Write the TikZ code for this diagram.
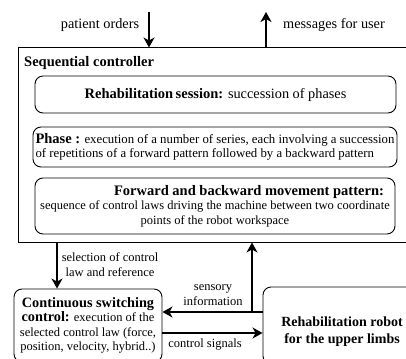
\documentclass[tikz,border=0pt]{standalone}
\usepackage{fontspec}
\setmainfont{Liberation Serif}
\usetikzlibrary{arrows.meta}
\newcommand{\hdfont}{\fontsize{14.5}{15}\selectfont\bfseries}
\newcommand{\lbfont}{\fontsize{14.3}{16}\selectfont}
\newcommand{\phfont}{\fontsize{12.8}{14}\selectfont}
\newcommand{\smfont}{\fontsize{12.5}{14.5}\selectfont}

\begin{document}
\begin{tikzpicture}[x=1pt, y=-1pt,
                   every node/.style={inner sep=1pt},
                   outerbox/.style={draw, line width=1pt, minimum width=402pt, minimum height=194pt},
                   roundbox/.style={draw, line width=0.9pt, rounded corners=8pt},
                   flow/.style={line width=2pt, -{Stealth[length=10pt, width=11pt, inset=3pt]}}]
\useasboundingbox (0,0) rectangle (406,358);
% sequential controller
\node[outerbox] (seq) at (219,145) {};
\node[anchor=west, font=\hdfont] (seqtitle) at (23,63) {Sequential controller};
\node[roundbox, minimum width=361pt, minimum height=37pt, font=\lbfont] (session) at (215.5,94.5)
	{{\hdfont Rehabilitation\,session:} succession of phases};
\node[roundbox, minimum width=364pt, minimum height=40pt, align=left, font=\phfont] (phase) at (215,147)
	{{\hdfont Phase :} execution of a number of series, each involving a succession\\
	 of repetitions of a forward pattern followed by a backward pattern};
\node[roundbox, minimum width=360pt, minimum height=56pt, align=center, font=\smfont] (pattern) at (215,206)
	{\hspace*{68pt}{\hdfont Forward and backward movement pattern:}\\
	 sequence of control laws driving the machine between two coordinate\\
	 points of the robot workspace};
% lower level
\node[roundbox, minimum width=148pt, minimum height=73pt, align=center, font=\smfont] (switching) at (88,325.5)
	{{\fontsize{14.3}{15}\selectfont\bfseries Continuous switching}\\
	 {\fontsize{14.3}{15}\selectfont\bfseries control:} execution of the\\
	 selected control law (force,\\
	 position, velocity, hybrid..)};
\node[roundbox, minimum width=158pt, minimum height=77pt,
	  label={[font=\fontsize{14}{17}\selectfont\bfseries, align=center, yshift=-6pt]center:Rehabilitation robot\\for the upper limbs}]
	  (robot) at (342,325.5) {};
% connectors
\coordinate (orders) at (149,12);
\coordinate (user) at (266,12);
\coordinate (sel) at (57,0);
\coordinate (fb) at (252,312);
\coordinate (cs) at (0,333);
\draw[flow] (orders) -- (orders |- seq.north);
\draw[flow] (user |- seq.north) -- (user);
\draw[flow] (sel |- seq.south) -- (sel |- switching.north);
\draw[flow] (robot.west |- fb) -- (switching.east |- fb);
\draw[flow] (fb) -- (fb |- seq.south);
\draw[flow] (switching.east |- cs) -- (robot.west |- cs);
% labels
\node[font=\lbfont] (orderstext) at (100,25) {patient orders};
\node[font=\lbfont] (usertext) at (334,25) {messages for user};
\node[font=\smfont, align=center] (seltext) at (110,264.5) {selection of control\\law and reference};
\node[font=\smfont, align=center] (fbtext) at (213,295) {sensory\\information};
\node[font=\smfont] (cstext) at (205,345) {control signals};
\end{tikzpicture}
\end{document}
